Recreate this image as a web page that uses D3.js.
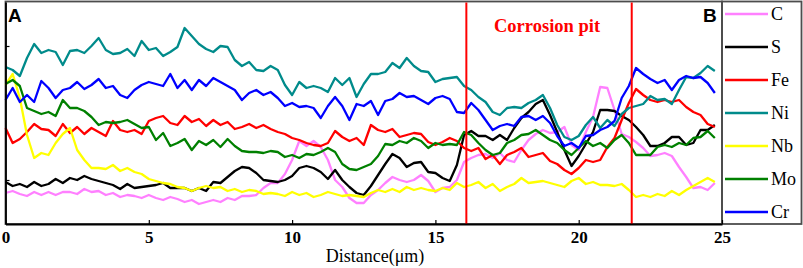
<!DOCTYPE html>
<html>
<head>
<meta charset="utf-8">
<script src="https://cdn.jsdelivr.net/npm/d3@7"></script>
<style>
  html, body { margin: 0; padding: 0; background: #fff; }
  svg { display: block; }
</style>
</head>
<body>
<svg id="chart" width="803" height="268"></svg>
<script>
// ---------- data ----------
const distance = [0,0.25,0.5,0.75,1,1.25,1.5,1.75,2,2.25,2.5,2.75,3,3.25,3.5,3.75,4,4.25,4.5,4.75,
5,5.25,5.5,5.75,6,6.25,6.5,6.75,7,7.25,7.5,7.75,8,8.25,8.5,8.75,9,9.25,9.5,9.75,
10,10.25,10.5,10.75,11,11.25,11.5,11.75,12,12.25,12.5,12.75,13,13.25,13.5,13.75,14,14.25,14.5,14.75,
15,15.25,15.5,15.75,16,16.25,16.5,16.75,17,17.25,17.5,17.75,18,18.25,18.5,18.75,19,19.25,19.5,19.75,
20,20.25,20.5,20.75,21,21.25,21.5,21.75,22,22.25,22.5,22.75,23,23.25,23.5,23.75,24,24.25,24.5,24.75];

const C = [31,33,30,28,32,29,32,29,32,32,30,35,32,33,29,31,27,29,28,26,
29,26,24,27,25,22,24,20,22,24,22,26,24,28,28,29,36,41,41,50,
64,83,78,83,77,64,44,37,26,21,21,29,34,41,47,44,42,44,49,43,
32,36,37,44,62,66,69,70,66,71,64,62,74,84,90,94,91,92,97,79,
74,92,107,137,136,114,90,87,82,76,68,69,71,68,57,47,36,37,34,41];

const S = [42,38,40,37,42,38,40,45,41,46,44,48,45,43,41,39,35,40,36,37,
38,39,41,36,36,36,33,36,33,42,41,47,53,57,56,51,44,43,42,44,
48,56,58,56,52,45,54,44,37,31,29,38,49,60,70,66,57,61,62,52,
51,46,43,59,89,93,88,88,84,89,84,96,106,112,120,124,109,92,74,58,
68,80,92,114,114,113,108,104,97,89,78,78,81,87,87,79,81,94,94,99];

const Fe = [96,81,85,92,100,95,94,88,100,91,97,90,96,92,88,103,94,92,94,90,
103,106,108,101,99,108,102,105,98,104,99,102,95,97,100,96,99,95,92,90,
86,84,81,79,78,81,93,87,83,86,79,99,94,92,95,87,89,91,90,82,
79,82,86,83,76,73,76,65,69,60,69,72,76,67,69,71,63,60,54,50,
56,64,62,64,77,86,104,121,135,129,124,122,124,122,124,117,112,109,100,97];

const Ni = [157,154,148,166,180,171,174,172,159,173,174,171,178,186,174,170,171,175,168,183,
174,176,168,172,177,196,188,180,175,172,178,177,164,158,162,154,153,158,154,139,
129,142,136,138,136,132,146,139,146,127,140,150,150,152,161,156,166,158,153,152,
142,145,146,147,138,134,127,122,112,109,116,117,116,121,124,129,116,99,87,84,
88,99,107,96,104,98,110,116,118,120,128,124,125,120,134,147,146,151,158,153];

const Nb = [139,150,126,89,66,71,69,81,90,96,74,64,56,56,55,59,53,56,52,50,
45,43,41,40,37,36,33,36,38,36,37,33,35,32,34,33,30,31,30,28,
32,29,31,27,29,32,30,28,29,28,27,31,34,32,35,32,37,34,36,34,
33,36,34,41,37,39,42,36,40,33,37,40,46,41,42,43,41,39,37,43,
46,40,42,39,39,38,40,34,27,29,27,30,28,33,29,34,38,42,46,42];

const Mo = [140,144,138,116,113,110,112,108,124,116,116,113,107,99,102,101,102,104,100,96,
97,84,91,78,81,85,74,83,79,84,77,85,78,73,72,72,71,73,72,67,
69,66,70,69,72,76,72,60,55,54,57,60,68,80,79,83,81,86,83,76,
81,79,80,79,92,89,81,74,69,71,81,84,89,90,94,89,84,81,74,69,
76,83,78,81,76,84,89,81,69,69,69,77,79,77,81,79,86,87,93,86];

const Cr = [124,136,122,129,122,143,136,126,134,136,142,135,139,145,136,138,129,126,134,139,
142,140,138,150,136,144,134,144,138,146,142,138,134,124,131,134,129,132,126,118,
121,117,118,116,106,118,127,118,104,120,118,123,109,123,125,131,127,128,124,120,
126,128,125,112,111,121,114,104,94,98,100,98,107,108,104,108,101,88,78,81,
76,88,89,94,97,103,126,138,156,150,145,141,144,134,144,148,146,147,141,131];

const seriesNames = ["C","S","Fe","Ni","Nb","Mo","Cr"];
const seriesValues = [C, S, Fe, Ni, Nb, Mo, Cr];
const seriesColors = ["#ff80ff","#000000","#ff0000","#008b8b","#ffff00","#008000","#0000ff"];

const xTicks = [0,5,10,15,20,25];
const yTicks = [44,178];
const pitBounds = [16.08, 21.85];
const pitLabel = "Corrosion pit";
const xLabel = "Distance(\u03bcm)";
const panelLabels = ["A","B"];

// ---------- layout ----------
const svg = d3.select("#chart");
const L = 5.5, R = 722, T = 1.5, B = 224;
const x = d3.scaleLinear().domain([0,25]).range([L, R]);
const y = d3.scaleLinear().domain([0,222]).range([B, 2]);

svg.append("rect").attr("width",803).attr("height",268).attr("fill","#fff");

// plot frame + legend frame
svg.append("rect").attr("x",L).attr("y",T).attr("width",R-L).attr("height",B-T)
  .attr("fill","none").attr("stroke","#4d4d4d").attr("stroke-width",1.8);
svg.append("rect").attr("x",R).attr("y",T).attr("width",801.5-R).attr("height",B-T)
  .attr("fill","none").attr("stroke","#4d4d4d").attr("stroke-width",1.8);

// lines
const line = d3.line().x((d,i)=>x(distance[i])).y(d=>y(d)).curve(d3.curveLinear);
const g = svg.append("g");
seriesValues.forEach((vals,k)=>{
  g.append("path").datum(vals).attr("d",line)
    .attr("fill","none").attr("stroke",seriesColors[k])
    .attr("stroke-width",2.3).attr("stroke-linejoin","round");
});

// corrosion pit lines
svg.selectAll(".pit").data(pitBounds).enter().append("line")
  .attr("x1",d=>x(d)).attr("x2",d=>x(d)).attr("y1",T+1).attr("y2",B)
  .attr("stroke","#ff0000").attr("stroke-width",2);
svg.append("text").attr("x",(x(pitBounds[0])+x(pitBounds[1]))/2 - 2).attr("y",32)
  .attr("text-anchor","middle").attr("font-family","'Liberation Serif', serif")
  .attr("font-weight","bold").attr("font-size",18.5).attr("fill","#ff0000").text(pitLabel);

// axes
const xAxis = d3.axisBottom(x).tickValues(xTicks).tickSizeInner(-4).tickSizeOuter(0).tickPadding(7);
const ax = svg.append("g").attr("transform",`translate(0,${B})`).call(xAxis);
ax.select(".domain").attr("stroke","#000").attr("stroke-width",1.8);
ax.selectAll(".tick line").attr("stroke","#000").attr("stroke-width",1.2);
ax.selectAll(".tick text").attr("font-family","'Liberation Serif', serif")
  .attr("font-weight","bold").attr("font-size",17).attr("fill","#000");

const yAxis = d3.axisLeft(y).tickValues(yTicks).tickSizeInner(-4).tickSizeOuter(0).tickFormat("");
const ay = svg.append("g").attr("transform",`translate(${L},0)`).call(yAxis);
ay.select(".domain").attr("stroke","#000").attr("stroke-width",1.8);
ay.selectAll(".tick line").attr("stroke","#000").attr("stroke-width",1.2);

svg.append("text").attr("x",375).attr("y",262).attr("text-anchor","middle")
  .attr("font-family","'Liberation Serif', serif").attr("font-size",18).attr("fill","#000")
  .text(xLabel);

// panel labels
svg.append("text").attr("x",8).attr("y",22).attr("font-family","'Liberation Sans', Arial, sans-serif")
  .attr("font-weight","bold").attr("font-size",19).attr("fill","#000").text(panelLabels[0]);
svg.append("text").attr("x",703).attr("y",22).attr("font-family","'Liberation Sans', Arial, sans-serif")
  .attr("font-weight","bold").attr("font-size",19).attr("fill","#000").text(panelLabels[1]);

// legend
const lg = svg.append("g");
seriesNames.forEach((n,k)=>{
  const yy = 14 + k*33;
  lg.append("line").attr("x1",725).attr("x2",768).attr("y1",yy).attr("y2",yy)
    .attr("stroke",seriesColors[k]).attr("stroke-width",2.3);
  lg.append("text").attr("x",771).attr("y",yy).attr("dy","0.35em")
    .attr("font-family","'Liberation Serif', serif").attr("font-size",18).attr("fill","#000").text(n);
});
</script>
</body>
</html>
